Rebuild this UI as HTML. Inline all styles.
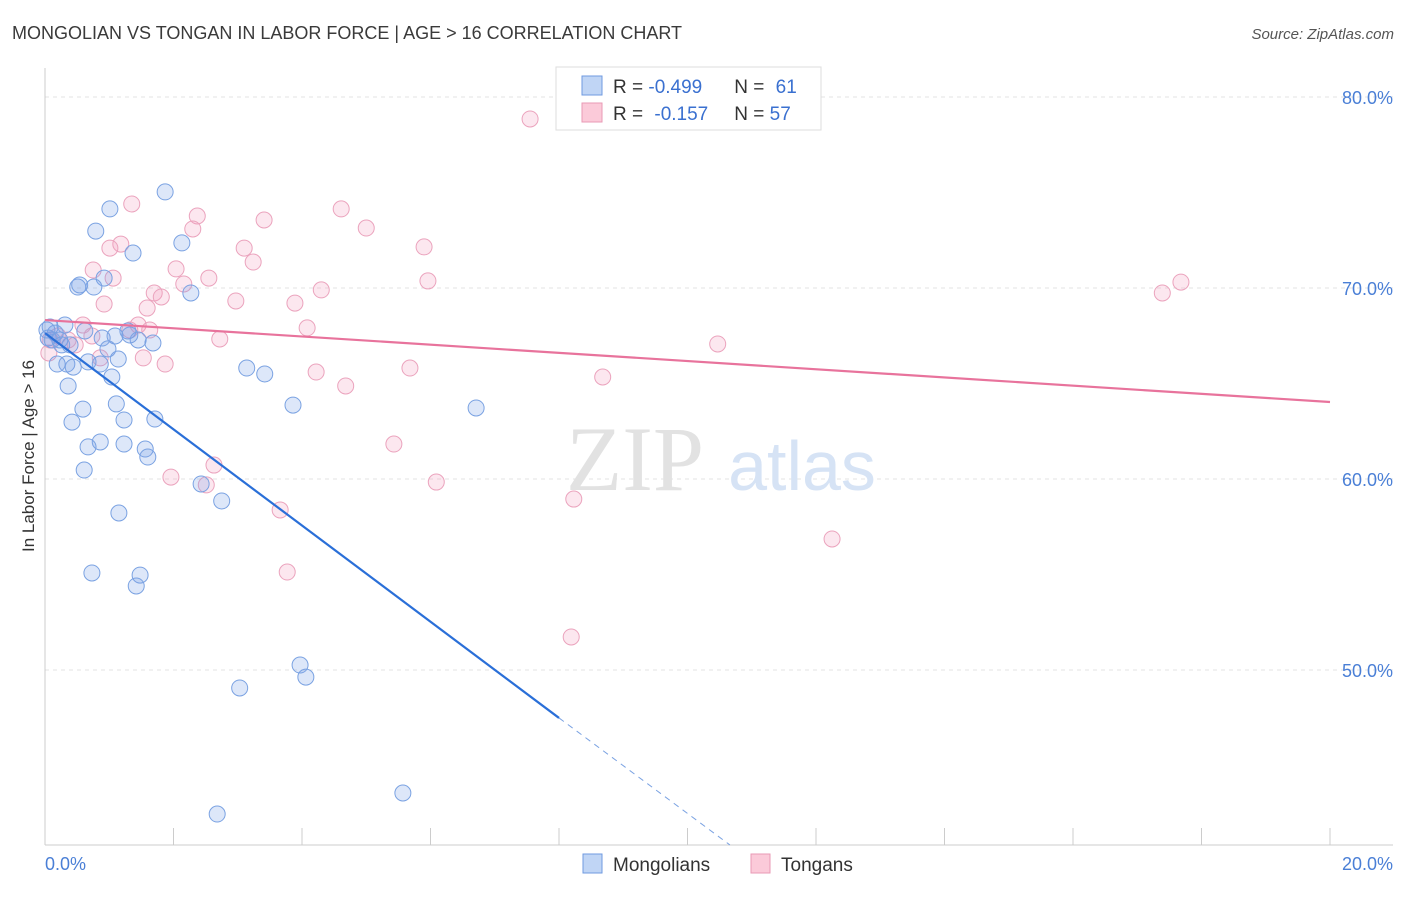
<!DOCTYPE html>
<html><head><meta charset="utf-8">
<style>
body{margin:0;background:#fff;font-family:"Liberation Sans",sans-serif;}
</style></head>
<body>
<svg width="1406" height="892" viewBox="0 0 1406 892" xmlns="http://www.w3.org/2000/svg" style="font-family:'Liberation Sans',sans-serif">
<text x="12" y="39" font-size="18" fill="#3a3a3a">MONGOLIAN VS TONGAN IN LABOR FORCE | AGE &gt; 16 CORRELATION CHART</text>
<text x="1394" y="39" font-size="15" fill="#555" font-style="italic" text-anchor="end">Source: ZipAtlas.com</text>
<g id="grid"></g>
<g>
<text x="635" y="490" font-size="92" fill="#e2e2e2" font-family="Liberation Serif" text-anchor="middle">ZIP</text>
<text x="802" y="490" font-size="70" fill="#d6e3f5" text-anchor="middle">atlas</text>
</g>
<line x1="45" y1="68" x2="45" y2="845" stroke="#ccc"/>
<line x1="45" y1="845" x2="1393" y2="845" stroke="#ccc"/>
<g id="ticks"></g>
<g id="ylabels"></g>
<text x="45" y="870" font-size="18" fill="#4a7fd6">0.0%</text>
<text x="1393" y="870" font-size="18" fill="#4a7fd6" text-anchor="end">20.0%</text>
<text transform="translate(34,456) rotate(-90)" font-size="17" fill="#333" text-anchor="middle">In Labor Force | Age &gt; 16</text>
<g id="pts"></g>
<g id="lines"></g>
<g>
<rect x="556" y="67" width="265" height="63" fill="#fff" stroke="#ddd"/>
<rect x="582" y="76" width="20" height="19" fill="#c0d5f5" stroke="#6f9ae0"/>
<rect x="582" y="103" width="20" height="19" fill="#fbcad9" stroke="#e89ab5"/>
<text x="613" y="93" font-size="19" fill="#333">R = <tspan fill="#3a70d0">-0.499</tspan><tspan dx="32">N = </tspan><tspan dx="6" fill="#3a70d0">61</tspan></text>
<text x="613" y="120" font-size="19" fill="#333">R = <tspan dx="6" fill="#3a70d0">-0.157</tspan><tspan dx="26">N = </tspan><tspan fill="#3a70d0">57</tspan></text>
</g>
<g>
<rect x="583" y="854" width="19" height="19" fill="#c0d5f5" stroke="#6f9ae0"/>
<text x="613" y="871" font-size="19" fill="#333">Mongolians</text>
<rect x="751" y="854" width="19" height="19" fill="#fbcad9" stroke="#e89ab5"/>
<text x="781" y="871" font-size="19" fill="#333">Tongans</text>
</g>
</svg>
<script>
const yTicks=[80,70,60,50];
const yTickLabels=["80.0%","70.0%","60.0%","50.0%"];
const xTicks=[0,2,4,6,8,10,12,14,16,18,20];
const mongX=[1.87,1.01,0.79,2.13,1.37,0.92,0.51,0.54,0.76,2.27,0.08,0.31,0.16,0.23,0.05,0.39,0.62,0.89,1.09,1.29,1.45,1.68,0.98,1.14,0.67,0.86,0.19,0.34,0.44,1.04,3.14,3.42,0.36,0.59,1.11,0.42,1.23,1.71,3.86,6.71,0.86,0.67,1.23,1.56,1.60,0.61,2.43,2.75,1.15,0.73,1.48,1.42,3.97,4.06,3.03,5.57,2.68,0.11,0.26,0.03,1.32];
const mongY=[75.03,74.14,72.98,72.36,71.83,70.52,70.05,70.16,70.05,69.74,67.96,68.06,67.64,67.28,67.38,67.02,67.75,67.38,67.49,67.75,67.28,67.12,66.81,66.28,66.13,66.02,66.02,66.02,65.86,65.34,65.81,65.50,64.87,63.66,63.93,62.98,63.09,63.14,63.87,63.72,61.94,61.68,61.83,61.57,61.15,60.47,59.74,58.85,58.22,55.08,54.97,54.40,50.26,49.63,49.06,43.56,42.46,67.28,67.02,67.80,67.54];
const tongX=[7.55,1.35,2.37,2.30,3.41,4.61,5.00,3.10,3.24,1.18,1.01,5.90,0.75,1.06,2.04,2.55,5.96,2.16,1.70,1.81,2.97,3.89,4.30,0.92,1.59,17.39,17.68,0.59,1.45,4.08,2.72,10.47,0.20,0.47,0.06,1.53,1.87,4.22,4.68,5.68,8.68,5.43,2.63,1.96,2.51,6.09,8.23,3.66,12.25,3.77,8.19,0.08,0.36,0.73,1.32,1.63,0.86];
const tongY=[78.85,74.40,73.77,73.09,73.56,74.14,73.14,72.09,71.36,72.30,72.09,72.15,70.94,70.52,71.0,70.52,70.37,70.21,69.74,69.53,69.32,69.21,69.90,69.16,68.95,69.74,70.31,68.06,68.06,67.91,67.33,67.07,67.49,67.02,66.60,66.34,66.02,65.60,64.87,65.81,65.34,61.83,60.73,60.10,59.69,59.84,58.95,58.38,56.86,55.13,51.73,67.28,67.28,67.49,67.80,67.80,66.34];
const mongFit=[[0,67.64],[8,47.49]];
const mongFitExt=[[8,47.49],[10.66,40.84]];
const tongFit=[[0,68.32],[20,64.03]];
const NS="http://www.w3.org/2000/svg";
const sx=v=>45+v*64.25;
const sy=v=>97+(80-v)*19.1;
function mk(tag,attrs,parent){const e=document.createElementNS(NS,tag);for(const k in attrs)e.setAttribute(k,attrs[k]);parent.appendChild(e);return e;}
const grid=document.getElementById('grid'),yl=document.getElementById('ylabels'),tk=document.getElementById('ticks');
yTicks.forEach((t,i)=>{
 const l=mk('line',{x1:45,x2:1393,y1:sy(t),y2:sy(t),stroke:'#e3e3e3','stroke-dasharray':'4,4'},grid);
 
 
 const tx=mk('text',{x:1393,y:sy(t)+7,'font-size':18,fill:'#4a7fd6','text-anchor':'end'},yl);
 tx.textContent=yTickLabels[i];
 
 
});
xTicks.forEach(t=>{
 const l=mk('line',{x1:sx(t),x2:sx(t),y1:828,y2:845,stroke:'#ccc'},tk);
 
 
});
const pts=document.getElementById('pts');
tongX.forEach((x,i)=>{
 const c=mk('circle',{cx:sx(x),cy:sy(tongY[i]),r:8,fill:'rgba(244,160,190,0.25)',stroke:'#eba3bd','stroke-width':1},pts);
 
 
});
mongX.forEach((x,i)=>{
 const c=mk('circle',{cx:sx(x),cy:sy(mongY[i]),r:8,fill:'rgba(120,160,230,0.25)',stroke:'#7aa2e2','stroke-width':1},pts);
 
 
});
const lines=document.getElementById('lines');
function ln(p,attrs,name){const e=mk('line',Object.assign({x1:sx(p[0][0]),y1:sy(p[0][1]),x2:sx(p[1][0]),y2:sy(p[1][1])},attrs),lines);
 
 }
ln(tongFit,{stroke:'#e8739c','stroke-width':2.2},'tongan-trendline');
ln(mongFit,{stroke:'#2a6fd8','stroke-width':2.2},'mongolian-trendline');
ln(mongFitExt,{stroke:'#7aa2e2','stroke-width':1,'stroke-dasharray':'6,5'},'mongolian-trendline-extension');
</script>
</body></html>
